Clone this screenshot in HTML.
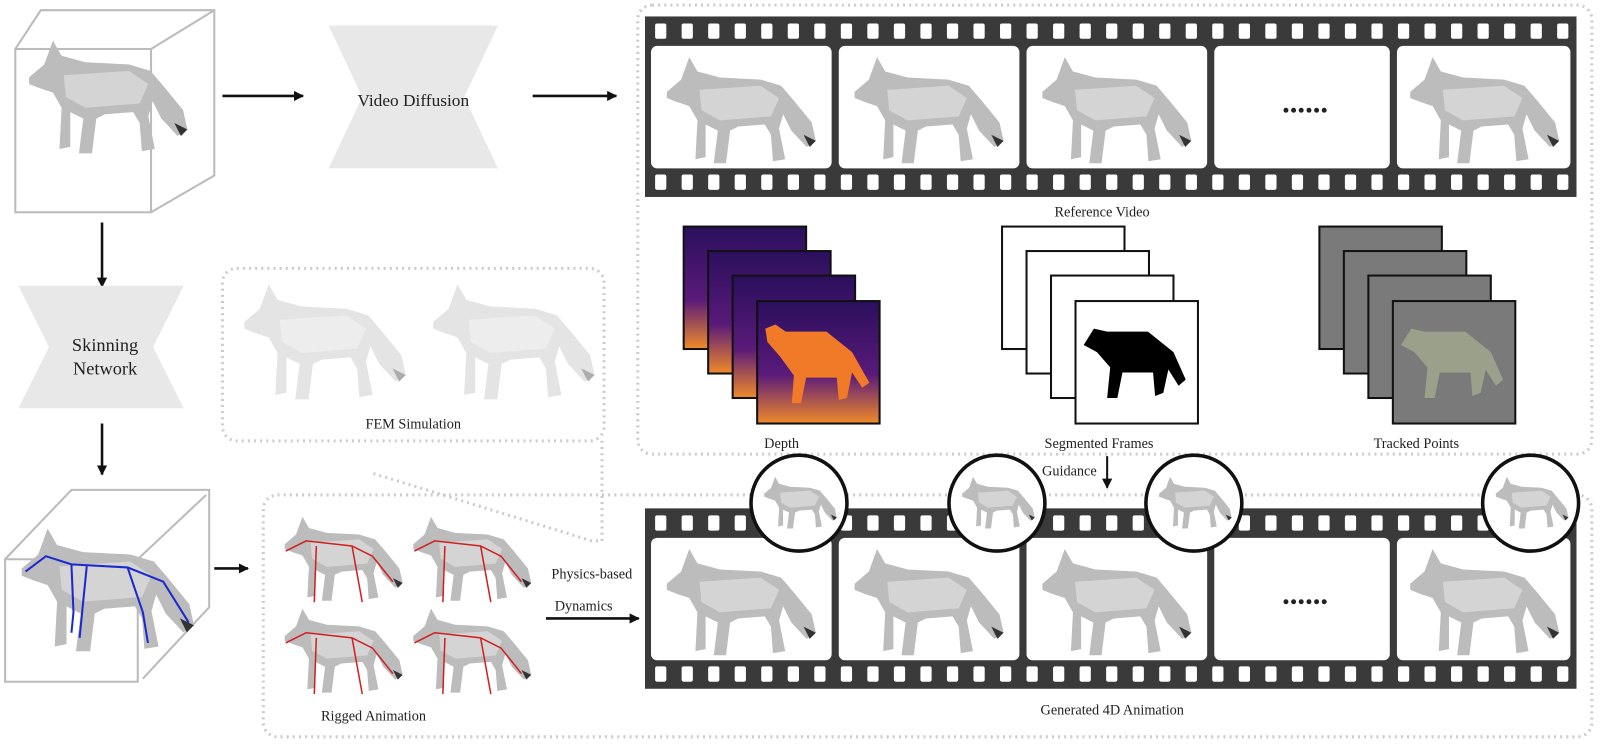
<!DOCTYPE html>
<html><head><meta charset="utf-8"><style>
html,body{margin:0;padding:0;background:#fff;}
svg{display:block;}
text{font-family:"Liberation Serif",serif;fill:#222;}
</style></head><body>
<svg width="1600" height="745" viewBox="0 0 1568 730" preserveAspectRatio="none" xmlns="http://www.w3.org/2000/svg">
<defs>
<symbol id="wolf" viewBox="0 0 160 120">
<path d="M8,42 L22,30 L30,8 L38,22 L60,28 L100,30 L120,36 L132,50 L150,72 L154,90 L145,96 L130,80 L122,64 L118,78 L124,108 L112,110 L110,84 L104,74 L78,76 L70,80 L66,112 L54,112 L58,80 L46,74 L46,106 L36,108 L38,70 L30,56 L18,52 L8,48 Z" fill="#bcbcbc"/>
<path d="M40,40 L100,36 L118,48 L110,66 L60,70 L42,60 Z" fill="#d4d4d4"/>
<path d="M142,84 L154,90 L148,96 Z" fill="#333"/>
</symbol>
<symbol id="film" viewBox="0 0 913 177" preserveAspectRatio="none">
<rect x="0" y="0" width="913" height="177" fill="#3a3a3a"/>
<g fill="#fff">
<rect x="10" y="7" width="11" height="15" rx="2"/><rect x="36" y="7" width="11" height="15" rx="2"/><rect x="62" y="7" width="11" height="15" rx="2"/><rect x="88" y="7" width="11" height="15" rx="2"/><rect x="114" y="7" width="11" height="15" rx="2"/><rect x="140" y="7" width="11" height="15" rx="2"/><rect x="166" y="7" width="11" height="15" rx="2"/><rect x="192" y="7" width="11" height="15" rx="2"/><rect x="218" y="7" width="11" height="15" rx="2"/><rect x="244" y="7" width="11" height="15" rx="2"/><rect x="270" y="7" width="11" height="15" rx="2"/><rect x="296" y="7" width="11" height="15" rx="2"/><rect x="322" y="7" width="11" height="15" rx="2"/><rect x="348" y="7" width="11" height="15" rx="2"/><rect x="374" y="7" width="11" height="15" rx="2"/><rect x="400" y="7" width="11" height="15" rx="2"/><rect x="426" y="7" width="11" height="15" rx="2"/><rect x="452" y="7" width="11" height="15" rx="2"/><rect x="478" y="7" width="11" height="15" rx="2"/><rect x="504" y="7" width="11" height="15" rx="2"/><rect x="530" y="7" width="11" height="15" rx="2"/><rect x="556" y="7" width="11" height="15" rx="2"/><rect x="582" y="7" width="11" height="15" rx="2"/><rect x="608" y="7" width="11" height="15" rx="2"/><rect x="634" y="7" width="11" height="15" rx="2"/><rect x="660" y="7" width="11" height="15" rx="2"/><rect x="686" y="7" width="11" height="15" rx="2"/><rect x="712" y="7" width="11" height="15" rx="2"/><rect x="738" y="7" width="11" height="15" rx="2"/><rect x="764" y="7" width="11" height="15" rx="2"/><rect x="790" y="7" width="11" height="15" rx="2"/><rect x="816" y="7" width="11" height="15" rx="2"/><rect x="842" y="7" width="11" height="15" rx="2"/><rect x="868" y="7" width="11" height="15" rx="2"/><rect x="894" y="7" width="11" height="15" rx="2"/>
</g>
<g fill="#fff" transform="translate(0,148)">
<rect x="10" y="7" width="11" height="15" rx="2"/><rect x="36" y="7" width="11" height="15" rx="2"/><rect x="62" y="7" width="11" height="15" rx="2"/><rect x="88" y="7" width="11" height="15" rx="2"/><rect x="114" y="7" width="11" height="15" rx="2"/><rect x="140" y="7" width="11" height="15" rx="2"/><rect x="166" y="7" width="11" height="15" rx="2"/><rect x="192" y="7" width="11" height="15" rx="2"/><rect x="218" y="7" width="11" height="15" rx="2"/><rect x="244" y="7" width="11" height="15" rx="2"/><rect x="270" y="7" width="11" height="15" rx="2"/><rect x="296" y="7" width="11" height="15" rx="2"/><rect x="322" y="7" width="11" height="15" rx="2"/><rect x="348" y="7" width="11" height="15" rx="2"/><rect x="374" y="7" width="11" height="15" rx="2"/><rect x="400" y="7" width="11" height="15" rx="2"/><rect x="426" y="7" width="11" height="15" rx="2"/><rect x="452" y="7" width="11" height="15" rx="2"/><rect x="478" y="7" width="11" height="15" rx="2"/><rect x="504" y="7" width="11" height="15" rx="2"/><rect x="530" y="7" width="11" height="15" rx="2"/><rect x="556" y="7" width="11" height="15" rx="2"/><rect x="582" y="7" width="11" height="15" rx="2"/><rect x="608" y="7" width="11" height="15" rx="2"/><rect x="634" y="7" width="11" height="15" rx="2"/><rect x="660" y="7" width="11" height="15" rx="2"/><rect x="686" y="7" width="11" height="15" rx="2"/><rect x="712" y="7" width="11" height="15" rx="2"/><rect x="738" y="7" width="11" height="15" rx="2"/><rect x="764" y="7" width="11" height="15" rx="2"/><rect x="790" y="7" width="11" height="15" rx="2"/><rect x="816" y="7" width="11" height="15" rx="2"/><rect x="842" y="7" width="11" height="15" rx="2"/><rect x="868" y="7" width="11" height="15" rx="2"/><rect x="894" y="7" width="11" height="15" rx="2"/>
</g>
<g fill="#fff">
<rect x="6" y="29" width="177" height="120" rx="6"/>
<rect x="190" y="29" width="177" height="120" rx="6"/>
<rect x="374" y="29" width="177" height="120" rx="6"/>
<rect x="558" y="29" width="172" height="120" rx="6"/>
<rect x="737" y="29" width="170" height="120" rx="6"/>
</g>
</symbol>
<marker id="ah" markerWidth="10" markerHeight="10" refX="9" refY="5" orient="auto" markerUnits="userSpaceOnUse"><path d="M0,0 L10,5 L0,10 Z" fill="#111"/></marker>
<linearGradient id="dg" x1="0" y1="0" x2="0" y2="1"><stop offset="0" stop-color="#2a0f5c"/><stop offset="0.6" stop-color="#5a1a7a"/><stop offset="1" stop-color="#f08a2a"/></linearGradient>
</defs>

<g fill="none" stroke="#bbb" stroke-width="2">
<rect x="15" y="48" width="133" height="160"/>
<path d="M15,48 L40,10 L210,10 L210,172 L148,208 M148,48 L210,10"/>
</g>
<use href="#wolf" x="20" y="30" width="170" height="130"/>

<line x1="218" y1="94" x2="297" y2="94" stroke="#111" stroke-width="2.5" marker-end="url(#ah)"/>
<line x1="522" y1="94" x2="604" y2="94" stroke="#111" stroke-width="2.5" marker-end="url(#ah)"/>

<path d="M322,25 L488,25 L455,95 L488,165 L322,165 L355,95 Z" fill="#e8e8e8"/>
<text x="405" y="104" font-size="17" text-anchor="middle">Video Diffusion</text>

<rect x="625" y="5" width="935" height="440" rx="14" fill="none" stroke="#ccc" stroke-width="3" stroke-dasharray="2 4"/>
<use href="#film" x="632" y="16" width="913" height="177"/>
<use href="#wolf" x="643" y="48" width="165" height="120"/>
<use href="#wolf" x="827" y="48" width="165" height="120"/>
<use href="#wolf" x="1011" y="48" width="165" height="120"/>
<use href="#wolf" x="1374" y="48" width="160" height="120"/>
<text x="1279" y="110" font-size="30" text-anchor="middle" font-weight="bold">......</text>
<text x="1080" y="212" font-size="14" text-anchor="middle">Reference Video</text>

<g stroke="#111" stroke-width="2">
<rect x="670" y="222" width="120" height="120" fill="url(#dg)"/>
<rect x="694" y="246" width="120" height="120" fill="url(#dg)"/>
<rect x="718" y="270" width="120" height="120" fill="url(#dg)"/>
<rect x="742" y="295" width="120" height="120" fill="url(#dg)"/>
</g>
<path d="M750,322 L760,318 L770,325 L810,325 L835,345 L852,375 L845,380 L835,365 L830,390 L822,392 L820,370 L790,370 L785,395 L776,395 L778,368 L765,350 L752,335 Z" fill="#f07a28"/>
<text x="766" y="439" font-size="14" text-anchor="middle">Depth</text>

<g stroke="#111" stroke-width="2" fill="#fff">
<rect x="982" y="222" width="120" height="120"/>
<rect x="1006" y="246" width="120" height="120"/>
<rect x="1030" y="270" width="120" height="120"/>
<rect x="1054" y="295" width="120" height="120"/>
</g>
<path d="M1062,338 L1072,322 L1085,325 L1125,325 L1150,345 L1162,372 L1155,378 L1145,362 L1140,385 L1132,388 L1130,365 L1100,365 L1095,390 L1085,390 L1088,360 L1075,345 Z" fill="#000"/>
<text x="1077" y="439" font-size="14" text-anchor="middle">Segmented Frames</text>

<g stroke="#111" stroke-width="2" fill="#7a7a7a">
<rect x="1293" y="222" width="120" height="120"/>
<rect x="1317" y="246" width="120" height="120"/>
<rect x="1341" y="270" width="120" height="120"/>
<rect x="1365" y="295" width="120" height="120"/>
</g>
<path d="M1373,338 L1383,322 L1396,325 L1436,325 L1461,345 L1473,372 L1466,378 L1456,362 L1451,385 L1443,388 L1441,365 L1411,365 L1406,390 L1396,390 L1399,360 L1386,345 Z" fill="#9aa08a"/>
<text x="1388" y="439" font-size="14" text-anchor="middle">Tracked Points</text>

<line x1="100" y1="218" x2="100" y2="281" stroke="#111" stroke-width="2.5" marker-end="url(#ah)"/>
<path d="M18,280 L180,280 L150,340 L180,400 L18,400 L48,340 Z" fill="#e8e8e8"/>
<text x="103" y="344" font-size="18" text-anchor="middle">Skinning</text>
<text x="103" y="367" font-size="18" text-anchor="middle">Network</text>
<line x1="100" y1="415" x2="100" y2="465" stroke="#111" stroke-width="2.5" marker-end="url(#ah)"/>

<rect x="218" y="263" width="374" height="169" rx="14" fill="none" stroke="#ccc" stroke-width="3" stroke-dasharray="2 4"/>
<use href="#wolf" x="225" y="270" width="185" height="130" opacity="0.4"/>
<use href="#wolf" x="410" y="270" width="185" height="130" opacity="0.4"/>
<text x="405" y="420" font-size="14" text-anchor="middle">FEM Simulation</text>
<path d="M366,464 L580,530 L590,530 L590,432" fill="none" stroke="#ccc" stroke-width="3" stroke-dasharray="2 4"/>

<g fill="none" stroke="#bbb" stroke-width="2">
<rect x="5" y="548" width="130" height="120"/>
<path d="M5,548 L70,480 L205,480 L205,595 L140,665 M135,548 L202,485"/>
</g>
<use href="#wolf" x="12" y="508" width="185" height="140"/>
<g stroke="#1a2ad0" stroke-width="2" fill="none">
<path d="M25,560 L45,545 L70,553 L125,556 L160,570 L185,610 M70,553 L72,600 L70,620 M125,556 L140,600 L145,630 M85,555 L80,605 L78,625"/>
</g>
<line x1="210" y1="557" x2="243" y2="557" stroke="#111" stroke-width="2.5" marker-end="url(#ah)"/>

<rect x="258" y="485" width="1302" height="237" rx="14" fill="none" stroke="#ccc" stroke-width="3" stroke-dasharray="2 4"/>
<use href="#wolf" x="272" y="500" width="128" height="95"/>
<use href="#wolf" x="398" y="500" width="128" height="95"/>
<use href="#wolf" x="272" y="590" width="128" height="95"/>
<use href="#wolf" x="398" y="590" width="128" height="95"/>
<g stroke="#d02020" stroke-width="1.5" fill="none">
<path d="M280,540 L300,530 L345,535 L365,545 L385,570 M310,535 L308,590 M345,535 L355,590"/>
<path d="M406,540 L426,530 L471,535 L491,545 L511,570 M436,535 L434,590 M471,535 L481,590"/>
<path d="M280,630 L300,620 L345,625 L365,635 L385,660 M310,625 L308,680 M345,625 L355,680"/>
<path d="M406,630 L426,620 L471,625 L491,635 L511,660 M436,625 L434,680 M471,625 L481,680"/>
</g>
<text x="366" y="706" font-size="14" text-anchor="middle">Rigged Animation</text>

<text x="580" y="567" font-size="14" text-anchor="middle">Physics-based</text>
<text x="572" y="598" font-size="14" text-anchor="middle">Dynamics</text>
<line x1="535" y1="606" x2="626" y2="606" stroke="#111" stroke-width="2.5" marker-end="url(#ah)"/>

<use href="#film" x="632" y="498" width="913" height="177"/>
<use href="#wolf" x="643" y="530" width="165" height="120"/>
<use href="#wolf" x="827" y="530" width="165" height="120"/>
<use href="#wolf" x="1011" y="530" width="165" height="120"/>
<use href="#wolf" x="1374" y="530" width="160" height="120"/>
<text x="1279" y="592" font-size="30" text-anchor="middle" font-weight="bold">......</text>
<text x="1090" y="700" font-size="14" text-anchor="middle">Generated 4D Animation</text>

<g stroke="#111" stroke-width="3.5" fill="#fff">
<circle cx="783" cy="493" r="47"/>
<circle cx="977" cy="493" r="47"/>
<circle cx="1170" cy="493" r="47"/>
<circle cx="1500" cy="493" r="47"/>
</g>
<use href="#wolf" x="745" y="460" width="78" height="65"/>
<use href="#wolf" x="939" y="460" width="78" height="65"/>
<use href="#wolf" x="1132" y="460" width="78" height="65"/>
<use href="#wolf" x="1462" y="460" width="78" height="65"/>

<text x="1048" y="466" font-size="14" text-anchor="middle">Guidance</text>
<line x1="1085" y1="447" x2="1085" y2="478" stroke="#111" stroke-width="2" marker-end="url(#ah)"/>
</svg>
</body></html>
